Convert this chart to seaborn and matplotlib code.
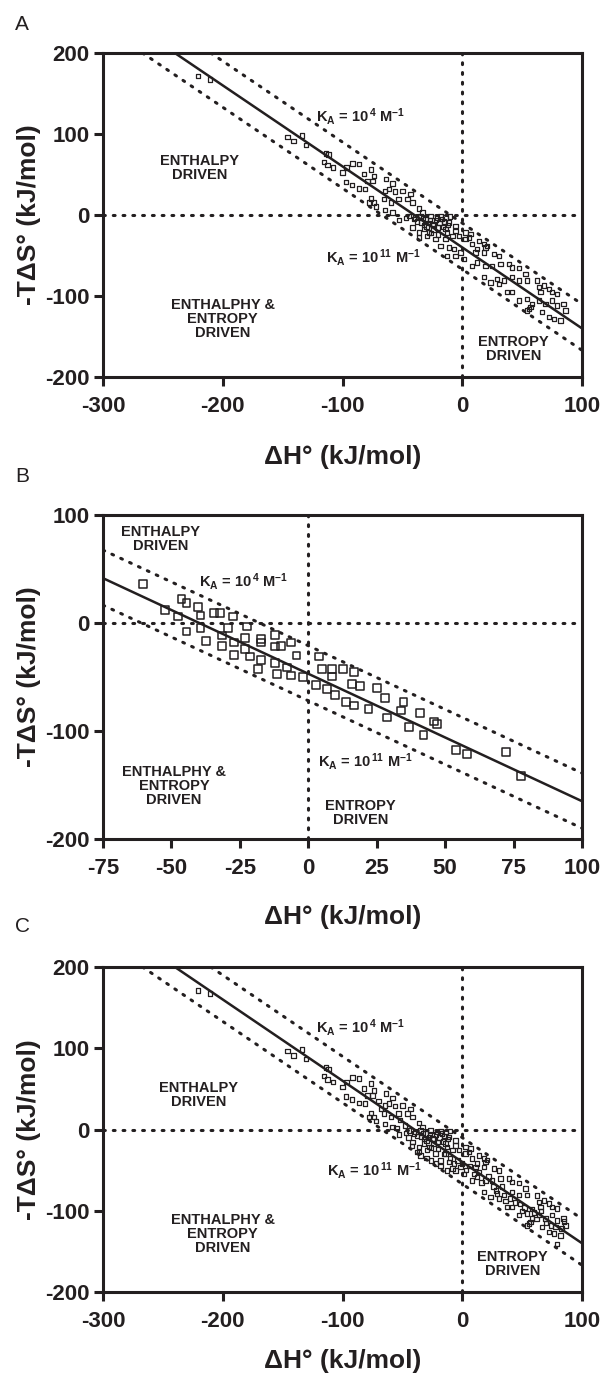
import numpy as np
import pandas as pd
import matplotlib
matplotlib.use("Agg")
import matplotlib.pyplot as plt
import seaborn as sns

# ---- data (dH, -TdS) in kJ/mol ----
a_dh = [-220.8, -210.6, -145.8, -140.8, -133.9, -130.6, -113.9, -111.7, -115.3, -112.5,
        -107.8, -91.7, -86.1, -96.7, -100.0, -97.2, -92.2, -86.1, -81.9, -76.4,
        -75.0, -73.6, -79.2, -81.1, -76.4, -72.2, -77.8, -73.6, -63.9, -58.3,
        -64.4, -61.1, -56.1, -50.0, -43.1, -65.3, -59.7, -53.3, -45.8, -41.7,
        -64.4, -58.3, -52.8, -36.1, -44.4, -40.3, -33.3, -38.9, -34.7, -30.6,
        -26.4, -25.0, -31.9, -27.8, -20.8, -16.7, -13.9, -11.1, -41.7, -36.1,
        -36.1, -29.2, -15.0, -18.0, -12.0, -22.0, -28.0, -32.0, -38.0, -24.0,
        -22.2, -18.1, -13.9, -8.3, -5.6, -12.5, -11.1, -6.9, -12.5, -5.6,
        -1.4, 1.4, 2.8, 5.6, 8.3, 12.5, 18.1, 19.4, 11.1, 18.1,
        26.4, 30.6, 8.3, 12.5, 19.4, 25.0, 31.9, 38.9, 41.7, 47.2,
        52.8, 18.1, 23.6, 29.2, 30.6, 34.7, 41.7, 47.2, 54.2, 37.5,
        41.7, 47.2, 54.2, 58.3, 55.6, 54.2, 56.9, 62.5, 63.9, 65.3,
        68.1, 72.2, 75.0, 79.2, 63.9, 69.4, 75.0, 79.2, 84.7, 86.1,
        66.7, 72.2, 76.4, 81.9, -5.6, -2.8, 2.8, 6.9, 13.9, 20.8,
        -33.0, -30.0, -27.0, -24.0, -21.0, -19.0, -16.0, -35.0, -26.0, -20.0,
        -47.0, -14.0, -10.0]
a_tds = [171.3, 167.2, 96.6, 91.3, 98.3, 86.4, 76.1, 74.5, 65.8, 61.7,
         58.5, 63.8, 62.6, 58.5, 52.3, 40.8, 37.1, 32.6, 50.3, 56.4,
         42.0, 48.2, 42.0, 31.8, 20.3, 10.5, 15.4, 15.4, 44.1, 38.8,
         29.7, 31.8, 28.9, 29.7, 25.6, 19.5, 15.4, 19.5, 19.5, 15.4,
         6.4, 3.1, -6.0, 8.0, -1.0, -5.1, 3.1, -3.1, -9.2, -5.1,
         -1.0, -11.3, -17.4, -21.5, -15.4, -5.1, -3.1, -9.2, -15.4, -21.5,
         -27.7, -25.6, -8.0, -2.0, -12.0, -6.0, -10.0, -12.0, -8.0, -18.0,
         -29.7, -38.0, -29.7, -25.6, -13.3, -21.5, -40.0, -42.0, -50.3, -50.3,
         -46.2, -54.4, -21.5, -27.7, -35.9, -42.0, -35.9, -40.0, -46.2, -46.2,
         -48.2, -50.3, -62.6, -58.5, -62.6, -62.6, -60.5, -60.5, -64.6, -65.8,
         -72.8, -76.9, -83.1, -79.0, -85.1, -80.9, -76.9, -80.9, -80.9, -95.4,
         -95.4, -105.6, -103.6, -109.7, -115.9, -118.0, -113.8, -81.0, -89.2, -95.4,
         -87.2, -91.3, -95.4, -97.4, -105.6, -109.7, -105.6, -111.8, -109.7, -118.0,
         -120.0, -126.2, -128.2, -130.3, -19.5, -25.6, -29.7, -23.6, -31.8, -37.9,
         -4.0, -14.0, -6.0, -12.0, -3.0, -10.0, -15.0, -1.0, -22.0, -24.0,
         -4.0, -17.0, -2.0]

# panel C = panel A set plus further complexes
c_extra_dh = [-45, -42, -38, -35, -30, -26, -22, -18, -15, -10, -8, -4, 0, 3, 6,
              10, 14, 16, 22, 26, 28, 33, 36, 40, 44, 48, 50, 52, 58, 60,
              62, 66, 70, 74, 78, 79, 83, 85, -48, -52, -55, -68, -70]
c_extra_tds = [-10, -20, -28, -32, -35, -38, -42, -45, -30, -35, -48, -38, -42, -50, -45,
               -55, -52, -65, -58, -70, -75, -70, -88, -85, -90, -92, -100, -96, -98, -102,
               -110, -100, -115, -118, -120, -141, -122, -113, 5, 12, 2, 25, 35]

b_dh = [-60.4, -52.4, -47.6, -46.3, -44.5, -40.2, -39.4, -39.4, -44.5, -37.4,
        -34.5, -32.1, -31.5, -31.5, -29.3, -27.4, -27.2, -27.2, -23.2, -23.2,
        -22.3, -21.3, -17.4, -17.4, -17.4, -18.3, -12.3, -12.3, -12.3, -11.3,
        -10.1, -7.9, -6.2, -6.2, -4.3, -1.8, 2.7, 3.9, 4.9, 6.7,
        8.8, 8.8, 9.8, 12.8, 13.8, 15.9, 16.7, 16.7, 18.9, 22.0,
        25.0, 28.0, 28.7, 33.8, 34.8, 36.8, 40.9, 42.1, 46.0, 47.0,
        53.9, 57.9, 72.2, 77.8]
b_tds = [35.9, 12.1, 6.0, 22.0, 18.9, 15.2, 6.9, -4.8, -7.9, -16.6,
         9.0, 9.0, -11.6, -21.2, -4.8, 6.0, -18.1, -29.5, -14.1, -24.3,
         -3.3, -31.0, -15.0, -18.1, -34.1, -42.5, -11.0, -21.8, -37.2, -47.1,
         -20.9, -41.2, -18.1, -48.6, -30.1, -50.2, -57.3, -31.0, -42.5, -61.3,
         -42.5, -49.5, -66.5, -42.8, -73.3, -56.3, -45.5, -76.4, -58.2, -79.5,
         -60.3, -69.6, -87.5, -81.0, -73.3, -96.4, -83.5, -103.5, -91.2, -93.3,
         -117.4, -121.1, -119.5, -141.4]

# reference lines: (intercept at dH=0, slope) -> fit, K_A=10^4, K_A=10^11
ac_fit = (-40, -1.0)
ac_ka4 = (-10, -1.0)
ac_ka11 = (-67, -1.0)
b_fit = (-47, -1.18)
b_ka4 = (-21, -1.18)
b_ka11 = (-72, -1.18)

ac_xticks = [-300, -200, -100, 0, 100]
ac_yticks = [-200, -100, 0, 100, 200]
b_xticks = [-75, -50, -25, 0, 25, 50, 75, 100]
b_yticks = [-200, -100, 0, 100]

sns.set_style("ticks")
plt.rcParams["font.family"] = ["Liberation Sans", "DejaVu Sans"]
plt.rcParams["mathtext.default"] = "regular"
plt.rcParams["axes.unicode_minus"] = False

fig = plt.figure(figsize=(6.14, 13.75), dpi=100)
W, H = 614, 1375
INK = "#231f20"


def make_ax(top, bottom, left=103, right=582):
    return fig.add_axes([left / W, 1 - bottom / H, (right - left) / W, (bottom - top) / H])


def dotted(**kw):
    return dict(color=INK, lw=2.2, ls=(0, (0.6, 2.6)), dash_capstyle="round", **kw)


def style(ax, xlim, ylim, xticks, yticks, xlab_y):
    ax.set_xlim(xlim)
    ax.set_ylim(ylim)
    ax.set_xticks(xticks)
    ax.set_yticks(yticks)
    for s in ax.spines.values():
        s.set_linewidth(2.2)
        s.set_color(INK)
        s.set_visible(True)
    ax.tick_params(direction="out", length=6.5, width=2.2, color=INK,
                   labelsize=16, labelcolor=INK)
    ax.tick_params(axis="x", pad=7)
    ax.tick_params(axis="y", pad=3)
    for lab in ax.get_xticklabels() + ax.get_yticklabels():
        lab.set_fontweight("bold")
    ax.set_xlabel("ΔH° (kJ/mol)", fontsize=19, fontweight="bold", color=INK)
    ax.set_ylabel("-TΔS° (kJ/mol)", fontsize=19, fontweight="bold", color=INK)
    ax.xaxis.set_label_coords(0.5, xlab_y)
    ax.xaxis.label.set_va("center")
    ax.yaxis.set_label_coords(-0.155, 0.5)
    ax.yaxis.label.set_va("center")


def lines(ax, fit, ka4, ka11):
    ax.axhline(0, **dotted())
    ax.axvline(0, **dotted())
    ax.axline((0, ka4[0]), slope=ka4[1], **dotted())
    ax.axline((0, ka11[0]), slope=ka11[1], **dotted())
    ax.axline((0, fit[0]), slope=fit[1], color=INK, lw=1.8)


def note(ax, x, y, s, ha="center"):
    ax.text(x, y, s, ha=ha, va="center", fontsize=10.5, fontweight="bold",
            linespacing=1.0, color=INK)


kw_small = dict(marker="s", s=10, facecolor="none", edgecolor=INK, linewidth=0.9, zorder=3)
kw_big = dict(marker="s", s=32, facecolor="none", edgecolor=INK, linewidth=1.1, zorder=3)

# ---- panel A ----
axA = make_ax(53, 377)
lines(axA, ac_fit, ac_ka4, ac_ka11)
sns.scatterplot(data=pd.DataFrame({"dH": a_dh, "TdS": a_tds}), x="dH", y="TdS", ax=axA, **kw_small)
style(axA, (-300, 100), (-200, 200), ac_xticks, ac_yticks, -0.247)
note(axA, -219, 58, "ENTHALPY\nDRIVEN")
note(axA, -200, -128, "ENTHALPHY &\nENTROPY\nDRIVEN")
note(axA, 43, -165, "ENTROPY\nDRIVEN")
note(axA, -122, 122, "K$_A$ = 10$^{\\,4}$ M$^{-1}$", ha="left")
note(axA, -114, -52, "K$_A$ = 10$^{\\,11}$ M$^{-1}$", ha="left")

# ---- panel B ----
axB = make_ax(515, 839)
lines(axB, b_fit, b_ka4, b_ka11)
sns.scatterplot(data=pd.DataFrame({"dH": b_dh, "TdS": b_tds}), x="dH", y="TdS", ax=axB, **kw_big)
style(axB, (-75, 100), (-200, 100), b_xticks, b_yticks, -0.240)
note(axB, -54, 78, "ENTHALPY\nDRIVEN")
note(axB, -49, -151, "ENTHALPHY &\nENTROPY\nDRIVEN")
note(axB, 19, -176, "ENTROPY\nDRIVEN")
note(axB, -40, 38, "K$_A$ = 10$^{\\,4}$ M$^{-1}$", ha="left")
note(axB, 3.7, -128, "K$_A$ = 10$^{\\,11}$ M$^{-1}$", ha="left")

# ---- panel C ----
axC = make_ax(967, 1292)
lines(axC, ac_fit, ac_ka4, ac_ka11)
c_df = pd.DataFrame({"dH": a_dh + c_extra_dh, "TdS": a_tds + c_extra_tds})
sns.scatterplot(data=c_df, x="dH", y="TdS", ax=axC, **kw_small)
style(axC, (-300, 100), (-200, 200), ac_xticks, ac_yticks, -0.213)
note(axC, -220, 42, "ENTHALPY\nDRIVEN")
note(axC, -200, -128, "ENTHALPHY &\nENTROPY\nDRIVEN")
note(axC, 42, -166, "ENTROPY\nDRIVEN")
note(axC, -122, 126, "K$_A$ = 10$^{\\,4}$ M$^{-1}$", ha="left")
note(axC, -113, -51, "K$_A$ = 10$^{\\,11}$ M$^{-1}$", ha="left")

for lab, yy in [("A", 25), ("B", 477), ("C", 927)]:
    fig.text(22 / W, 1 - yy / H, lab, ha="center", va="center", fontsize=15, color=INK)

fig.savefig("out.png", dpi=100)
